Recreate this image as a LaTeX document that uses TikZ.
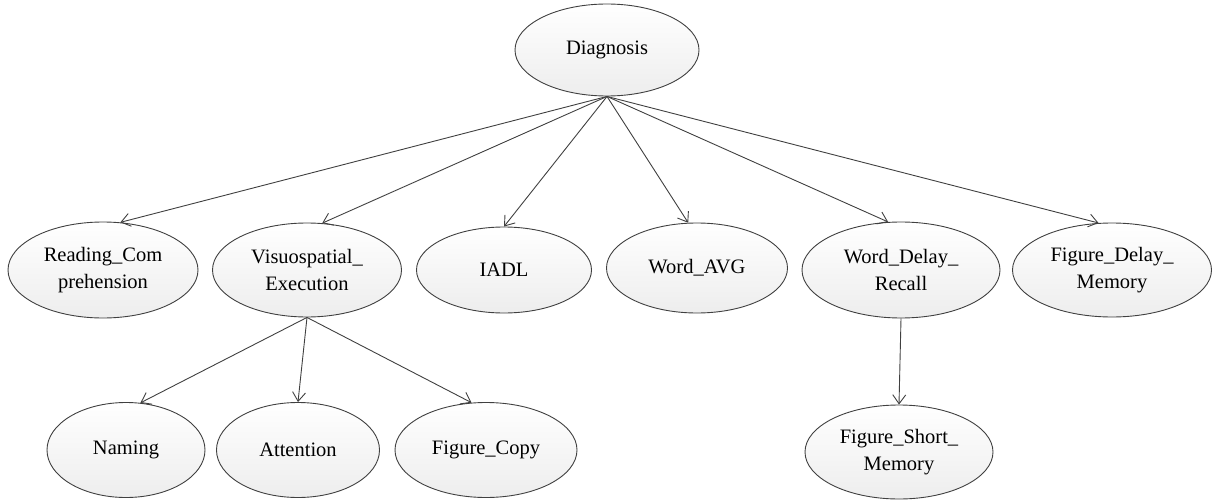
\documentclass[tikz,border=0pt]{standalone}
\usepackage{fontspec}
\setmainfont{Liberation Serif}
\usetikzlibrary{shapes.geometric,arrows.meta}
\tikzset{
  ell/.style={ellipse, draw=black!75, line width=0.9pt, top color=white, bottom color=black!7,
    inner sep=0pt, align=center, font=\fontsize{20.5}{27}\selectfont},
  link/.style={draw=black!75, line width=0.9pt, -{Straight Barb[length=9pt,width=13pt,line width=0.9pt]}}
}
\begin{document}
\begin{tikzpicture}[x=1pt,y=-1pt]
\useasboundingbox (0,0) rectangle (1213,500);
\node[ell, minimum width=184pt, minimum height=92pt] (diag) at (607,50) {Diagnosis};
\node[ell, minimum width=190pt, minimum height=96pt] (rc) at (103,270) {Reading\_Com\\prehension};
\node[ell, minimum width=189pt, minimum height=94pt] (ve) at (307,270) {Visuospatial\_\\Execution};
\node[ell, minimum width=175pt, minimum height=86pt] (iadl) at (504,270) {IADL};
\node[ell, minimum width=181pt, minimum height=90pt] (wavg) at (697,268) {Word\_AVG};
\node[ell, minimum width=198pt, minimum height=96pt] (wdr) at (901,270) {Word\_Delay\_\\Recall};
\node[ell, minimum width=199pt, minimum height=94pt] (fdm) at (1112,270) {Figure\_Delay\_\\Memory};
\node[ell, minimum width=158pt, minimum height=95pt] (nam) at (126,450) {Naming};
\node[ell, minimum width=163pt, minimum height=95pt] (att) at (298,450) {Attention};
\node[ell, minimum width=182pt, minimum height=95pt] (fc) at (486,450) {Figure\_Copy};
\node[ell, minimum width=188pt, minimum height=94pt] (fsm) at (899,452) {Figure\_Short\_\\Memory};
\draw[link] (diag.south) -- (rc.70);
\draw[link] (diag.south) -- (ve.72);
\draw[link] (diag.south) -- (iadl.north);
\draw[link] (diag.south) -- (wavg.101);
\draw[link] (diag.south) -- (wdr.105);
\draw[link] (diag.south) -- (fdm.106);
\draw[link] (ve.south) -- (nam.73);
\draw[link] (ve.south) -- (att.north);
\draw[link] (ve.south) -- (fc.107);
\draw[link] (wdr.south) -- (fsm.north);
\end{tikzpicture}
\end{document}
